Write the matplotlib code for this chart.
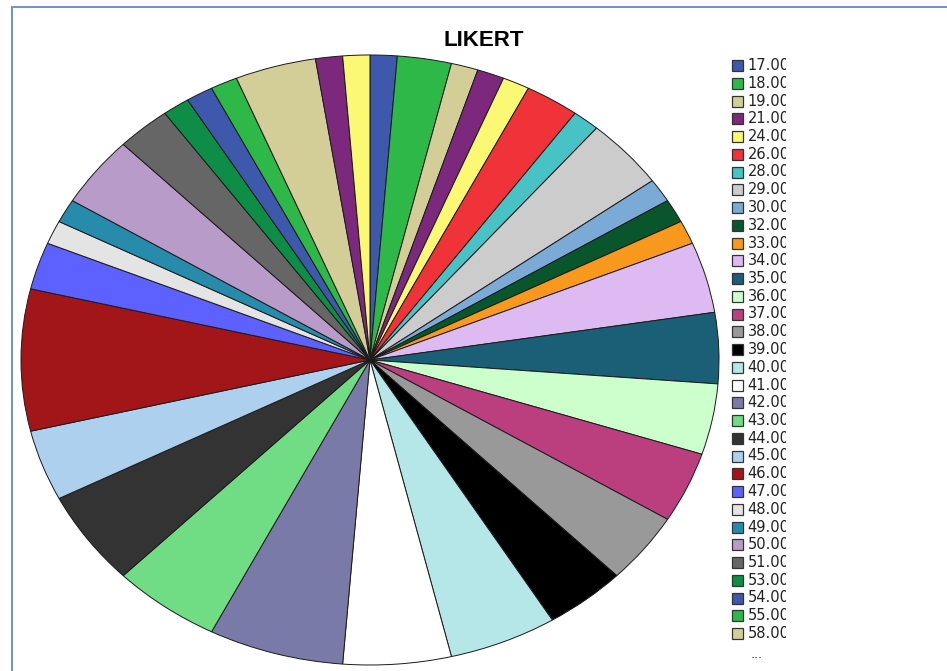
import matplotlib
matplotlib.use("Agg")
import matplotlib.pyplot as plt
from matplotlib.patches import Rectangle

# LIKERT score values and their counts
categories = ['17.00', '18.00', '19.00', '21.00', '24.00', '26.00', '28.00',
              '29.00', '30.00', '32.00', '33.00', '34.00', '35.00', '36.00',
              '37.00', '38.00', '39.00', '40.00', '41.00', '42.00', '43.00',
              '44.00', '45.00', '46.00', '47.00', '48.00', '49.00', '50.00',
              '51.00', '53.00', '54.00', '55.00', '58.00', '59.00', '60.00']
counts = [1, 2, 1, 1, 1, 2, 1, 3, 1, 1, 1, 3, 3, 3, 3, 3, 3, 4, 4, 5, 4,
          4, 3, 6, 2, 1, 1, 3, 2, 1, 1, 1, 3, 1, 1]
legend_shown = 33  # legend stops after 58.00 and shows "..."

# SPSS-like default palette (cycles after 30)
PALETTE = ['#3E58AC', '#2EB848', '#D3CE97', '#7C287D', '#FBF873', '#EF3338',
           '#48C2C5', '#CCCCCC', '#7AAAD5', '#0A562C', '#F8981D', '#DDBAF1',
           '#1A5F76', '#CCFFCC', '#BB3F7F', '#999999', '#000000', '#B6E7E8',
           '#FFFFFF', '#797AA7', '#70DC84', '#333333', '#ACD0EE', '#A21619',
           '#5D61FF', '#E4E4E4', '#278BAC', '#B89BC9', '#666666', '#0D8D46']
colors = [PALETTE[i % len(PALETTE)] for i in range(len(counts))]

W, H = 947, 671
fig = plt.figure(figsize=(W / 100, H / 100), dpi=100)
fig.patch.set_facecolor('white')

# blue frame around the chart area
fig.add_artist(Rectangle((12 / W, -0.05), 1.2, (H - 7) / H + 0.05,
                         transform=fig.transFigure, fill=False,
                         edgecolor='#6B93CF', linewidth=1.4))

# pie axes: stretched into an ellipse
left, right, top, bottom = 21, 719, 55, 665
ax = fig.add_axes([left / W, (H - bottom) / H, (right - left) / W, (bottom - top) / H])
wedges, _ = ax.pie(counts, colors=colors, startangle=90, counterclock=False,
                   radius=1.0, wedgeprops=dict(edgecolor='#1a1a1a', linewidth=0.7))
ax.set_aspect('auto')
ax.set_xlim(-1, 1)
ax.set_ylim(-1, 1)
ax.axis('off')

fig.text(484 / W, 1 - 40 / H, 'LIKERT', ha='center', va='center',
         fontsize=16, fontweight='bold', family='Liberation Sans')

# legend, drawn in pixel coordinates and clipped on the right like the original
lx0, lx1 = 725, 786
lax = fig.add_axes([lx0 / W, 0, (lx1 - lx0) / W, 1])
lax.set_xlim(lx0, lx1)
lax.set_ylim(H, 0)
lax.axis('off')
for i in range(legend_shown):
    y = 65.5 + i * 17.75
    lax.add_patch(Rectangle((732.5, y - 5.5), 11, 11, facecolor=colors[i],
                            edgecolor='#333333', linewidth=0.9))
    lax.text(747.5, y, categories[i], ha='left', va='center', fontsize=10.5,
             color='#222222', clip_on=True)
lax.text(757, 655, '...', ha='center', va='center', fontsize=9, color='#222222')

fig.savefig('out.png', dpi=100)
